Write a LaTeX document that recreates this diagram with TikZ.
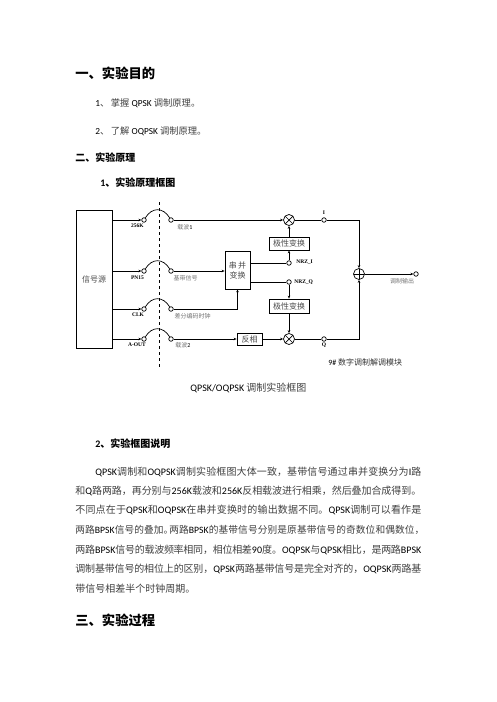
\documentclass[tikz,border=0pt]{standalone}
\usepackage{fontspec}
\setmainfont{Noto Sans CJK SC}
\newfontfamily\lat{Carlito}
\newfontfamily\labelfont{Liberation Serif}
\XeTeXlinebreaklocale "zh"
\XeTeXlinebreakskip=0pt plus 2pt minus 0.3pt
\newcommand{\en}[1]{\hskip 0pt plus 1pt{\lat\color{black} #1}\hskip 0pt plus 1pt}
\newcommand{\justline}[2]{\parbox{#1}{\parfillskip=0pt\relax\noindent #2\par}}
\usetikzlibrary{arrows.meta}
\begin{document}
\begin{tikzpicture}[x=1pt, y=-1pt, >={Stealth[length=3pt,width=2.5pt]}, line width=0.7pt,
    term/.style={draw, circle, inner sep=0pt, minimum size=4.5pt, fill=white},
    block/.style={draw, inner sep=0pt, font=\fontsize{8}{10}\selectfont, text=black!70},
    mult/.style={draw, circle, inner sep=0pt, minimum size=11pt, path picture={
        \draw (path picture bounding box.north west) -- (path picture bounding box.south east);
        \draw (path picture bounding box.north east) -- (path picture bounding box.south west);}},
    adder/.style={draw, circle, inner sep=0pt, minimum size=11pt, path picture={
        \draw (path picture bounding box.north) -- (path picture bounding box.south);
        \draw (path picture bounding box.west) -- (path picture bounding box.east);}},
    pin/.style={inner sep=0pt, font=\labelfont\bfseries\fontsize{5.5}{6}\selectfont},
    note/.style={inner sep=0pt, text=black!55, font=\fontsize{6}{7}\selectfont},
    bodytext/.style={anchor=west, inner sep=0pt, text=black!75, font=\fontsize{10}{12}\selectfont},
    aimtext/.style={bodytext, font=\fontsize{9.3}{12}\selectfont},
    subhead/.style={anchor=west, inner sep=0pt, font=\bfseries\fontsize{10}{12}\selectfont},
    head/.style={anchor=west, inner sep=0pt, font=\bfseries\fontsize{13.3}{16}\selectfont}]

    \useasboundingbox (0,0) rectangle (496,702);

    % headings and first lines
    \node[head] (title1) at (75,73) {一、实验目的};
    \node[aimtext] (aim1) at (95,103) {\en{1}、\,掌握\ \en{QPSK}\ 调制原理。};
    \node[aimtext] (aim2) at (95,131) {\en{2}、\,了解\ \en{OQPSK}\ 调制原理。};
    \node[subhead] (title2) at (75,158) {二、实验原理};
    \node[subhead] (sub1) at (100,183) {\en{1}、实验原理框图};

    % blocks
    \node[block, minimum width=36pt, minimum height=138pt] (src) at (94,279) {信号源};
    \node[block, minimum width=25pt, minimum height=38pt, align=center] (sp) at (237.5,270) {串\,并\\变换};
    \node[block, minimum width=25pt, minimum height=12pt] (inv) at (249.5,339) {反相};
    \node[block, minimum width=40pt, minimum height=13pt] (pol1) at (289,243.5) {极性变换};
    \node[block, minimum width=40pt, minimum height=14pt] (pol2) at (289,306) {极性变换};
    \node[mult] (mix1) at (289,220) {};
    \node[mult] (mix2) at (289,339) {};
    \node[adder] (sum) at (359,274) {};

    % terminals
    \node[term] (a1) at (144,220) {};
    \node[term] (b1) at (171,220) {};
    \node[term] (a2) at (144,271) {};
    \node[term] (b2) at (171,271) {};
    \node[term] (a3) at (144,309) {};
    \node[term] (b3) at (171,309) {};
    \node[term] (a4) at (144,339) {};
    \node[term] (b4) at (171,339) {};
    \node[term] (nrzi) at (289,263) {};
    \node[term] (nrzq) at (289,282) {};
    \node[term] (ti) at (324,220) {};
    \node[term] (tq) at (324,339) {};
    \node[term] (out) at (416,274) {};

    % jumpers
    \draw (a1) .. controls +(8,-13) and +(-8,-13) .. (b1);
    \draw (a2) .. controls +(8,-13) and +(-8,-13) .. (b2);
    \draw (a3) .. controls +(8,-13) and +(-8,-13) .. (b3);
    \draw (a4) .. controls +(8,-13) and +(-8,-13) .. (b4);
    \draw[dashed, line width=0.8pt] (159,202) -- (159,369);

    % wires
    \draw[->] (src.east |- a1) -- (a1);
    \draw[->] (src.east |- a2) -- (a2);
    \draw[->] (src.east |- a3) -- (a3);
    \draw[->] (src.east |- a4) -- (a4);
    \draw[->] (b1) -- (mix1);
    \draw[->] (b2) -- (sp.west |- b2);
    \draw[->] (b3) -| (sp.south);
    \draw[->] (b4) -- (inv);
    \draw[->] (inv) -- (mix2);
    \draw (sp.east |- nrzi) -- (nrzi);
    \draw (sp.east |- nrzq) -- (nrzq);
    \draw[->] (nrzi) -- (pol1);
    \draw[->] (pol1) -- (mix1);
    \draw[->] (nrzq) -- (pol2);
    \draw[->] (pol2) -- (mix2);
    \draw (mix1) -- (ti);
    \draw (mix2) -- (tq);
    \draw[->] (ti) -| (sum);
    \draw[->] (tq) -| (sum);
    \draw[->] (sum) -- (out);

    % labels
    \node[pin] (l1) at (137.5,225.5) {256K};
    \node[pin] (l2) at (137.5,278) {PN15};
    \node[pin] (l3) at (138,315) {CLK};
    \node[pin] (l4) at (137,345) {A-OUT};
    \node[note] (n1) at (185,227) {载波\en{1}};
    \node[note] (n2) at (185.5,278) {基带信号};
    \node[note] (n3) at (192.5,316) {差分编码时钟};
    \node[note] (n4) at (183,345) {载波\en{2}};
    \node[pin, anchor=west] (l5) at (296,262) {NRZ\_I};
    \node[pin, anchor=west] (l6) at (294,282) {NRZ\_Q};
    \node[pin] (l7) at (324,213) {I};
    \node[pin] (l8) at (324,345) {Q};
    \node[note] (n5) at (402,281) {调制输出};
    \node[inner sep=0pt, anchor=west, text=black!80, font=\fontsize{8}{10}\selectfont] (modname) at (328,362) {\en{9\#}\ 数字调制解调模块};
    \node[bodytext] (caption) at (190,388) {\en{QPSK/OQPSK}\ 调制实验框图};

    % explanation
    \node[subhead] (sub2) at (95,444) {\en{2}、实验框图说明};
    \node[bodytext] (p1) at (95,472) {\justline{326pt}{\en{QPSK}调制和\en{OQPSK}调制实验框图大体一致，基带信号通过串并变换分为\en{I}路}};
    \node[bodytext] (p2) at (75,491) {\justline{346pt}{和\en{Q}路两路，再分别与\en{256K}载波和\en{256K}反相载波进行相乘，然后叠加合成得到。}};
    \node[bodytext] (p3) at (75,510) {\justline{346pt}{不同点在于\en{QPSK}和\en{OQPSK}在串并变换时的输出数据不同。\en{QPSK}调制可以看作是}};
    \node[bodytext] (p4) at (75,530) {\justline{349pt}{\fontsize{9.7}{12}\selectfont 两路\en{BPSK}信号的叠加。\hskip-4pt 两路\en{BPSK}的基带信号分别是原基带信号的奇数位和偶数位，}};
    \node[bodytext] (p5) at (75,549.5) {\justline{346pt}{两路\en{BPSK}信号的载波频率相同，相位相差\en{90}度。\en{OQPSK}与\en{QPSK}相比，是两路\en{BPSK}}};
    \node[bodytext] (p6) at (75,568.5) {\justline{346pt}{调制基带信号的相位上的区别，\en{QPSK}两路基带信号是完全对齐的，\en{OQPSK}两路基}};
    \node[bodytext] (p7) at (75,589) {带信号相差半个时钟周期。};
    \node[head] (title3) at (75,620) {三、实验过程};

\end{tikzpicture}
\end{document}
